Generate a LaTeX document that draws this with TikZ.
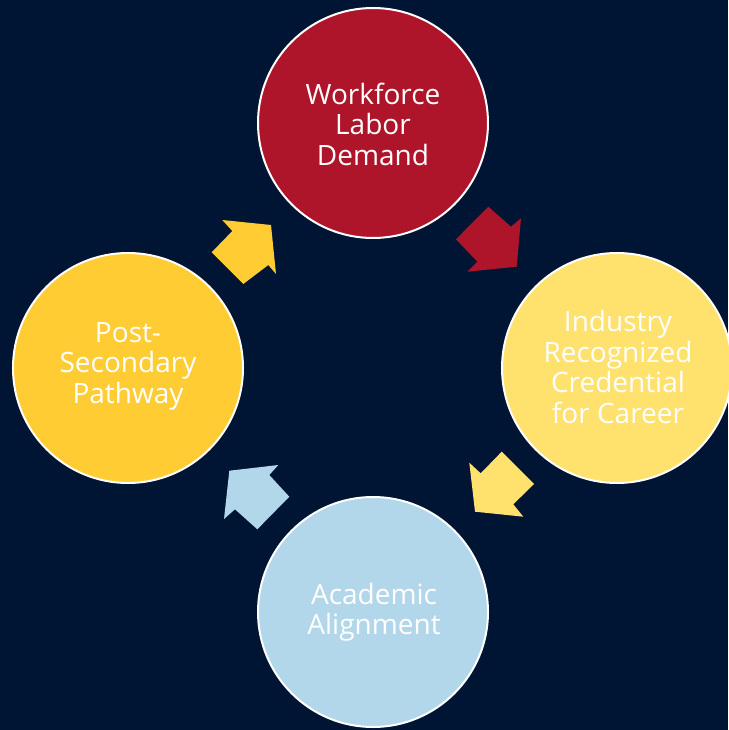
\documentclass[tikz,border=0pt]{standalone}
\usepackage{fontspec}
\setmainfont{Open Sans}
\definecolor{navy}{RGB}{0,21,51}
\definecolor{cred}{RGB}{174,21,42}
\definecolor{cgold}{RGB}{255,204,51}
\definecolor{cyel}{RGB}{255,225,110}
\definecolor{cblue}{RGB}{178,214,234}
\begin{document}
\begin{tikzpicture}[x=1pt,y=-1pt,
  bubble/.style={circle,draw=white,line width=2pt,minimum size=230pt,inner sep=0pt},
  lbl/.style={text=white,align=center,font=\fontsize{28}{30.5}\selectfont},
  blockarrow/.style={draw=none}]
\fill[navy] (0,0) rectangle (728,730);
\useasboundingbox (0,0) rectangle (728,730);
\node[bubble,fill=cred]  (work) at (373,123) {};
\node[bubble,fill=cyel]  (ind)  at (617,368) {};
\node[bubble,fill=cblue] (acad) at (373,612) {};
\node[bubble,fill=cgold] (post) at (128,368) {};
\node[lbl] (tw) at (373,124) {Workforce\\Labor\\Demand};
\node[lbl] (ti) at (618,367) {Industry\\Recognized\\Credential\\for Career};
\node[lbl] (ta) at (374,612) {Academic\\Alignment};
\node[lbl] (tp) at (128,366) {Post-\\Secondary\\Pathway};
% block arrows
\fill[cgold] (222.3,220) -- (271,225) -- (276,274) -- (268.3,265) -- (243.3,284) -- (211.7,252.3) -- (232.3,231) -- cycle;
\fill[cred] (488.3,206.7) -- (511,226.7) -- (521,218.3) -- (516.7,266.7) -- (467.3,271.7) -- (477.3,261.7) -- (456,239.3) -- cycle;
\fill[cyel] (501.7,451.7) -- (534,484) -- (513.3,504.3) -- (523.3,516.7) -- (475,511.7) -- (469.3,462.7) -- (480.7,473.3) -- cycle;
\fill[cblue] (229.3,470.7) -- (278.3,465) -- (269.3,475) -- (289.3,496.7) -- (257.3,529.3) -- (235,509.3) -- (224,519) -- cycle;
\end{tikzpicture}
\end{document}
